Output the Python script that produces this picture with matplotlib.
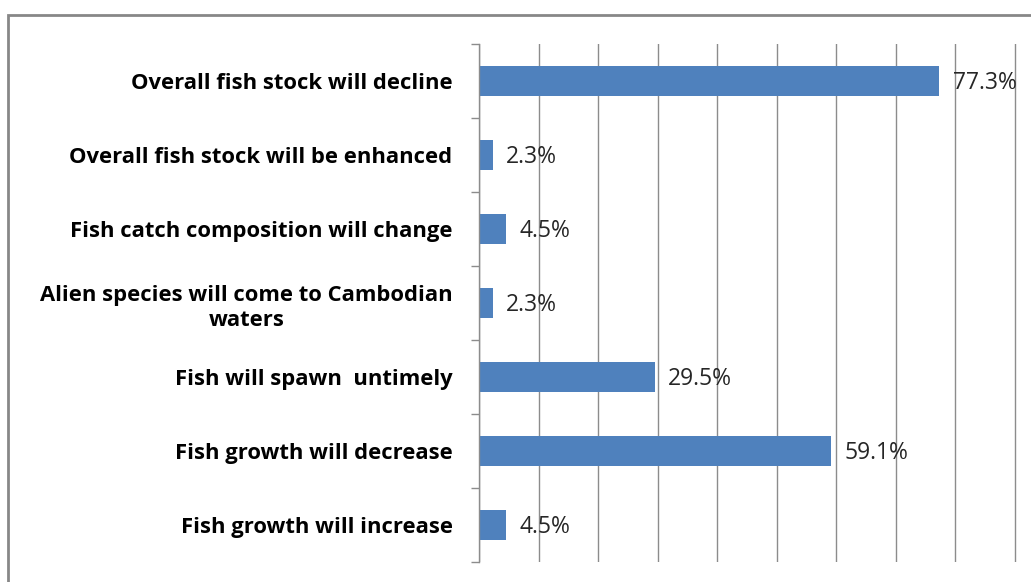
import matplotlib.pyplot as plt
import numpy as np
from matplotlib.patches import Rectangle
from matplotlib.ticker import FixedLocator, MultipleLocator

# Perceived impacts on fish, share of respondents (%)
categories = [
    "Overall fish stock will decline",
    "Overall fish stock will be enhanced",
    "Fish catch composition will change",
    "Alien species will come to Cambodian\nwaters",
    "Fish will spawn  untimely",
    "Fish growth will decrease",
    "Fish growth will increase",
]
shares = [77.3, 2.3, 4.5, 2.3, 29.5, 59.1, 4.5]
labels = ["77.3%", "2.3%", "4.5%", "2.3%", "29.5%", "59.1%", "4.5%"]

BAR_COLOR = "#4F81BD"
GRID_COLOR = "#8C8C8C"
W, H = 1031, 582

fig = plt.figure(figsize=(W / 100, H / 100), dpi=100)
# x runs 0-100 %, the right part of the plot area falls outside the canvas
ax = fig.add_axes([479 / W, 20 / H, 595 / W, 518 / H])

y = np.arange(len(categories))
ax.barh(y, shares, height=0.405, color=BAR_COLOR, zorder=2)
ax.set_ylim(len(categories) - 0.5, -0.5)
ax.set_xlim(0, 100)

for yi, val, lab in zip(y, shares, labels):
    ax.text(val + 2.3, yi + 0.03, lab, va="center", ha="left",
            fontsize=16.5, family="Open Sans", color="#262626", zorder=3)

ax.xaxis.set_major_locator(MultipleLocator(10))
ax.grid(axis="x", color=GRID_COLOR, linewidth=1.0, zorder=0)
ax.tick_params(axis="x", length=0, labelbottom=False)

ax.set_yticks(y)
ax.set_yticklabels(categories, fontsize=15.8, family="Open Sans",
                   fontweight="bold", multialignment="center", linespacing=1.3)
ax.yaxis.set_minor_locator(FixedLocator(np.arange(-0.5, len(categories), 1.0)))
ax.tick_params(axis="y", which="major", length=0, pad=19)
ax.tick_params(axis="y", which="minor", length=6, color=GRID_COLOR, width=1.0)

for side in ("top", "right", "bottom"):
    ax.spines[side].set_visible(False)
ax.spines["left"].set_color(GRID_COLOR)
ax.spines["left"].set_linewidth(1.0)

# chart-area border, runs off the right and bottom edges
fig.add_artist(Rectangle((8 / W, -0.2), 1.5, 1.2 - 15 / H, transform=fig.transFigure,
                         fill=False, edgecolor="#878787", linewidth=2.0))

fig.savefig("out.png", dpi=100)
